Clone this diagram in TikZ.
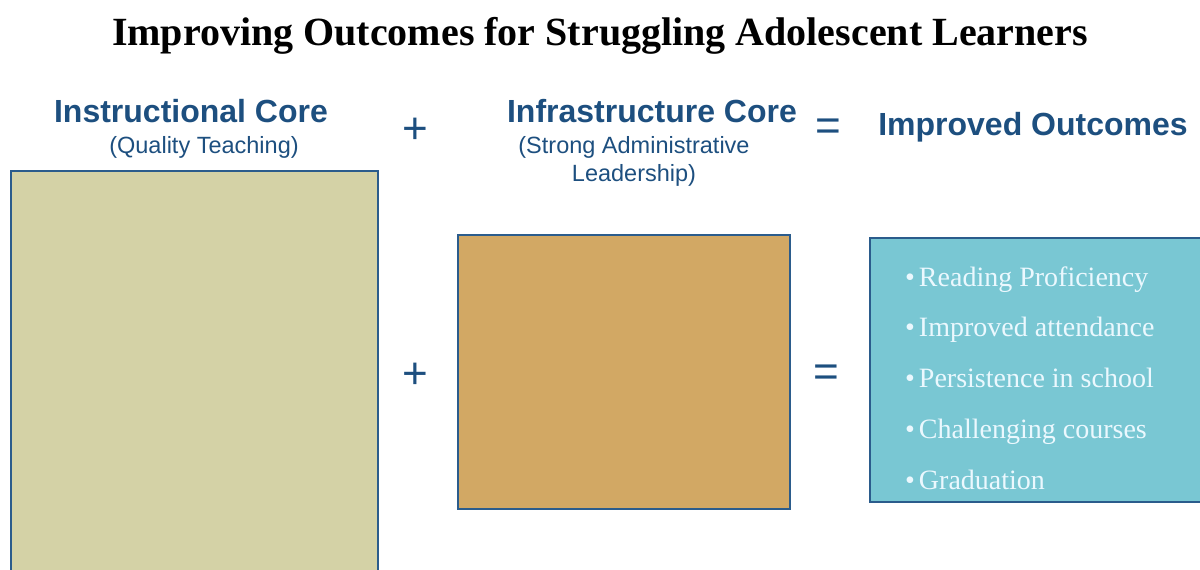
\documentclass[tikz,border=0pt]{standalone}
\usepackage{fontspec}
\setmainfont{Liberation Serif}
\setsansfont{Liberation Sans}
\definecolor{hdblue}{HTML}{1D4F7F}
\definecolor{edgeblue}{HTML}{2B5C8C}
\definecolor{sage}{HTML}{D4D2A6}
\definecolor{ochre}{HTML}{D2A864}
\definecolor{outcyan}{HTML}{79C7D3}
\tikzset{
  head/.style={font=\sffamily\bfseries\fontsize{32}{34}\selectfont, text=hdblue},
  sub/.style={font=\sffamily\fontsize{23.5}{28}\selectfont, text=hdblue, align=center},
  op/.style={font=\sffamily\fontsize{44}{44}\selectfont, text=hdblue},
  core/.style={draw=edgeblue, line width=1.5pt, anchor=north west, inner sep=0pt},
  item/.style={font=\fontsize{28}{28}\selectfont, text=white!92!cyan, anchor=base west, inner sep=0pt}
}
\begin{document}
\begin{tikzpicture}[x=1pt,y=-1pt]
    \useasboundingbox (0,0) rectangle (1200,570);
    \clip (0,0) rectangle (1200,570);
    \node[font=\bfseries\fontsize{40}{40}\selectfont] (title) at (600,36) {Improving Outcomes for Struggling Adolescent Learners};
    % headings
    \node[head] (h1) at (191,111) {Instructional Core};
    \node[sub] (s1) at (204,147) {(Quality Teaching)};
    \node[op] (p1) at (415,131) {+};
    \node[head] (h2) at (652,111) {Infrastructure Core};
    \node[sub] (s2) at (634,161) {(Strong Administrative\\Leadership)};
    \node[op] (e1) at (828,130) {=};
    \node[head] (h3) at (1033,127) {Improved Outcomes};
    % boxes
    \node[core, fill=sage, minimum width=367, minimum height=430] (instr) at (10,170) {};
    \node[op] (p2) at (415,376) {+};
    \node[core, fill=ochre, minimum width=332, minimum height=274] (infra) at (457,234) {};
    \node[op] (e2) at (826,376) {=};
    \node[core, fill=outcyan, minimum width=360, minimum height=264] (outc) at (869,237) {};
    \foreach \t [count=\i] in {Reading Proficiency, Improved attendance, Persistence in school, Challenging courses, Graduation}
        \node[item] (o\i) at (905,{286+50.75*(\i-1)}) {\textbullet\hspace{4pt}\t};
\end{tikzpicture}
\end{document}
